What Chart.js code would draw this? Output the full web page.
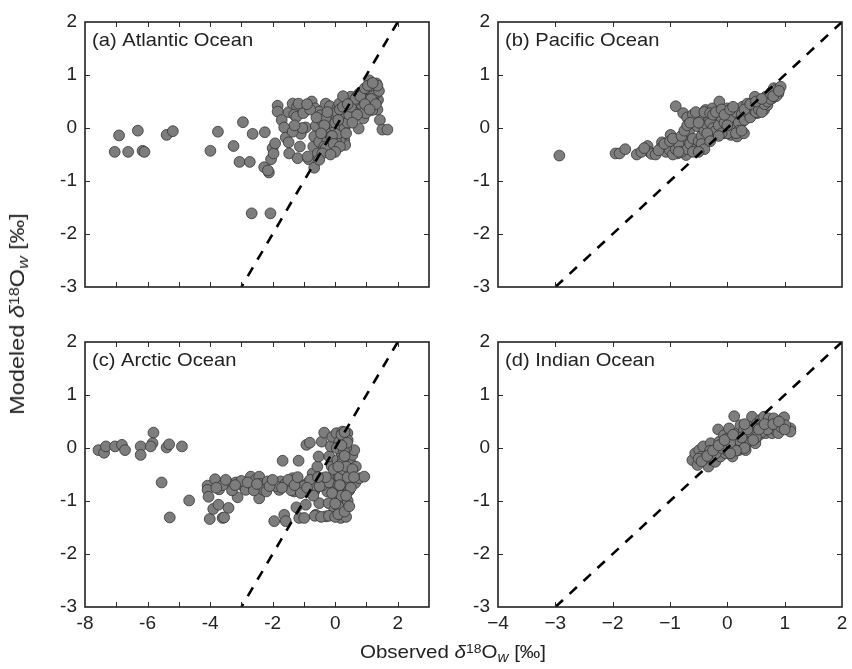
<!DOCTYPE html>
<html>
<head>
<meta charset="utf-8">
<script src="https://cdn.jsdelivr.net/npm/chart.js@4.4.1/dist/chart.umd.min.js"></script>
<style>
  html, body { margin: 0; padding: 0; background: #fff; }
  #wrap { position: relative; width: 852px; height: 669px; overflow: hidden; }
  canvas { position: absolute; left: 0; top: 0; }
  .axt { position: absolute; font-family: "Liberation Sans", Arial, sans-serif; color: #222; white-space: nowrap; line-height: 22px; }
  .axt sup { font-size: 0.68em; vertical-align: 0; position: relative; top: -0.38em; }
  .axt sub { font-size: 0.74em; vertical-align: 0; position: relative; top: 0.28em; }
  #xlab { font-size: 19px; left: 453px; top: 641px; transform: translateX(-50%) scaleX(1.08); }
  #ylab { font-size: 21px; left: 18px; top: 314px; transform: translate(-50%, -50%) rotate(-90deg) scaleX(1.12); }
</style>
</head>
<body>
<div id="wrap">
  <canvas id="ca" width="852" height="669"></canvas>
  <canvas id="cb" width="852" height="669"></canvas>
  <canvas id="cc" width="852" height="669"></canvas>
  <canvas id="cd" width="852" height="669"></canvas>
  <div class="axt" id="ylab">Modeled <i>δ</i><sup>18</sup>O<sub><i>w</i></sub> [‰]</div>
  <div class="axt" id="xlab">Observed <i>δ</i><sup>18</sup>O<sub><i>w</i></sub> [‰]</div>
</div>
<script>
// ---------------- DATA (observed, modeled) pairs ----------------
const panelLabels = ['(a) Atlantic Ocean', '(b) Pacific Ocean', '(c) Arctic Ocean', '(d) Indian Ocean'];
const yTicksRange = [-3, 2];
const leftXRange = [-8, 3];
const rightXRange = [-4, 2];
const oneToOne = [2, -3];

const atlantic = [
  [-7.05,-0.45],[-6.91,-0.14],[-6.62,-0.45],[-6.31,-0.05],[-6.16,-0.43],[-6.10,-0.45],
  [-5.39,-0.13],[-5.19,-0.06],[-3.99,-0.43],[-3.75,-0.07],[-3.25,-0.34],[-2.95,0.11],
  [-3.06,-0.64],[-2.73,-0.64],[-2.64,-0.11],[-2.25,-0.08],[-2.27,-0.74],[-2.12,-0.84],
  [-2.15,-0.80],[-2.67,-1.61],[-2.07,-1.61],[-1.84,0.42],[-1.84,0.31],[-2.00,-0.38],
  [-2.05,-0.59],[-1.97,-0.48],[-1.92,-0.29],[-1.71,0.15],[-1.63,0.01],[-1.58,-0.18],
  [-1.49,0.30],[-1.49,-0.27],[-1.47,-0.48],[-1.36,0.46],[-1.22,0.40],[-1.17,0.46],
  [-1.31,0.25],[-1.24,0.21],[-1.10,-0.11],[-1.13,-0.35],[-1.20,-0.57],[-1.02,0.28],
  [-0.94,0.01],[-0.85,-0.59],[-0.75,0.50],[-0.70,-0.35],[-0.64,0.37],[-0.62,0.04],
  [-0.67,-0.16],[-0.67,-0.75],[-0.51,0.31],[-0.46,0.24],[-0.41,0.12],[-0.51,-0.26],
  [-0.30,0.46],[-0.17,0.41],[-0.25,-0.23],[-0.43,-0.45],[-0.56,-0.48],[-0.35,-0.35],
  [-0.19,-0.07],[-0.14,-0.16],[-0.11,0.15],[-0.03,0.03],[0.02,0.24],[0.07,0.37],
  [0.13,0.46],[0.21,0.24],[0.23,-0.07],[0.29,-0.23],[0.32,-0.32],[0.36,0.15],
  [0.43,0.34],[0.45,0.53],[0.50,0.59],[0.55,0.46],[0.66,0.40],[0.75,-0.01],
  [0.77,0.65],[0.82,0.53],[0.90,0.18],[0.93,0.72],[0.98,0.62],[1.03,0.53],
  [1.09,0.90],[1.14,0.81],[1.19,0.72],[1.25,0.62],[1.28,0.78],[1.32,0.84],
  [1.35,0.68],[1.37,0.53],[1.35,0.35],[1.43,0.15],[1.51,-0.03],[1.67,-0.03],
  [1.19,0.34],[0.98,0.28],[0.77,0.46],[0.55,0.34],[0.34,0.28],[0.15,-0.23],
  [0.02,-0.23],[-0.09,-0.29],[-0.19,-0.35],[-0.30,-0.38],[-0.41,-0.48],[-0.51,-0.60],
  [-0.20,0.10],[0.00,0.10],[0.10,-0.10],[-0.10,-0.15],[0.20,0.05],[0.05,0.30],
  [-0.30,0.20],[0.30,0.00],[-0.05,-0.30],[0.15,0.35],[0.40,0.10],[0.60,0.50],
  [0.70,0.60],[0.85,0.65],[1.00,0.70],[1.10,0.60],[1.20,0.50],[1.30,0.65],
  [0.90,0.55],[1.05,0.45],[0.60,0.30],[0.45,0.25],[1.15,0.70],[1.25,0.75],
  [1.20,0.60],[-1.36,-0.07],[-0.88,-0.54],
  [-0.35,0.05],[-0.25,0.30],[0.10,0.15],[0.25,0.40],[0.35,-0.10],[0.50,0.40],
  [0.65,0.55],[0.80,0.60],[0.95,0.75],[1.05,0.80],[1.15,0.55],[1.30,0.45],
  [1.40,0.70],[1.35,0.80],[1.20,0.85],[0.95,0.45],[0.70,0.25],[0.55,0.10],
  [0.15,-0.35],[-0.45,-0.10],[-0.60,0.20],[-0.80,0.35],[-0.90,0.45],[-1.05,0.00],
  [-1.30,0.05],[0.00,-0.45],[-0.15,-0.50],[0.25,0.60],[0.40,0.45],[1.10,0.35]
];

const pacific = [
  [-2.93,-0.52],[-1.95,-0.48],[-1.88,-0.48],[-1.78,-0.40],[-1.58,-0.50],[-1.39,-0.34],
  [-1.36,-0.45],[-1.32,-0.49],[-1.14,-0.27],[-1.16,-0.38],[-1.07,-0.45],[-0.99,-0.13],
  [-0.96,-0.35],[-0.90,0.41],[-0.87,-0.48],[-0.81,-0.35],[-0.77,0.28],[-0.75,-0.19],
  [-0.72,-0.51],[-0.67,-0.07],[-0.61,-0.41],[-0.58,0.18],[-0.55,-0.26],[-0.52,0.03],
  [-0.49,-0.35],[-0.46,0.24],[-0.43,-0.13],[-0.38,0.34],[-0.35,-0.23],[-0.32,0.15],
  [-0.29,-0.01],[-0.26,0.37],[-0.23,-0.10],[-0.20,0.09],[-0.17,0.21],[-0.14,0.50],
  [-0.13,-0.01],[-0.09,0.28],[-0.06,-0.10],[-0.03,0.15],[0.00,0.37],[0.03,0.03],
  [0.06,-0.13],[0.09,0.28],[0.12,-0.07],[0.14,0.15],[0.17,-0.16],[0.20,0.34],
  [0.23,0.21],[0.26,0.40],[0.29,-0.10],[0.32,0.28],[0.35,0.46],[0.38,0.34],
  [0.43,0.40],[0.48,0.59],[0.52,0.28],[0.55,0.46],[0.60,0.40],[0.64,0.34],
  [0.67,0.59],[0.72,0.53],[0.77,0.68],[0.81,0.75],[0.86,0.72],[0.89,0.65],
  [0.93,0.78],[0.78,0.56],[0.70,0.43],[0.45,0.28],[0.26,0.12],[0.14,-0.01],
  [0.09,0.03],[-1.25,-0.50],[-1.20,-0.42],[-1.00,-0.42],[-0.95,-0.50],[-0.90,-0.40],
  [-0.85,-0.30],[-0.80,-0.45],[-0.70,-0.40],[-0.65,-0.30],[-0.60,-0.20],[-0.55,-0.40],
  [-0.50,-0.25],[-0.45,-0.15],[-0.40,-0.05],[-0.35,0.05],[-0.30,0.10],[-0.25,0.00],
  [-0.20,-0.05],[-0.15,0.05],[-0.10,0.20],[-0.05,0.10],[0.05,0.20],[0.10,0.00],
  [0.15,0.30],[0.20,0.10],[0.25,0.25],[0.30,0.15],[0.35,0.30],[0.40,0.20],
  [0.45,0.35],[0.50,0.30],[0.55,0.35],[0.60,0.30],[0.65,0.45],[0.70,0.50],
  [0.75,0.55],[0.85,0.60],[-0.70,0.20],[-0.60,0.25],[-0.55,0.30],[-0.40,0.30],
  [-0.30,0.28],[0.00,-0.10],[-0.10,-0.10],[0.20,-0.05],
  [-1.50,-0.45],[-1.45,-0.38],[-1.10,-0.30],[-1.00,-0.25],[-0.95,-0.20],[-0.80,-0.15],
  [-0.75,-0.05],[-0.70,0.05],[-0.65,0.10],[-0.50,0.10],[-0.45,-0.30],[-0.40,-0.40],
  [-0.35,-0.10],[-0.30,-0.25],[-0.25,0.25],[-0.20,0.30],[-0.15,-0.15],[-0.10,0.35],
  [-0.05,0.25],[0.00,0.05],[0.05,0.35],[0.10,0.40],[0.15,-0.10],[0.25,-0.05],
  [0.30,0.35],[0.40,0.45],[0.50,0.50],[0.60,0.55],[0.75,0.65],[0.80,0.60],
  [0.90,0.70],[-0.85,-0.45],[-0.60,-0.45],[-0.50,-0.45]
];

const arctic = [
  [-7.57,-0.04],[-7.39,-0.09],[-7.33,0.03],[-7.04,0.03],[-6.82,0.06],[-6.72,-0.04],
  [-6.22,0.03],[-6.22,-0.13],[-5.81,0.29],[-5.84,0.09],[-5.90,0.03],[-5.39,0.01],
  [-5.31,0.07],[-4.90,0.03],[-5.55,-0.65],[-5.29,-1.31],[-4.67,-0.99],[-4.08,-0.71],
  [-4.08,-0.79],[-4.05,-0.92],[-4.01,-1.34],[-3.84,-0.59],[-3.90,-1.15],[-3.73,-1.07],
  [-3.71,-0.78],[-3.60,-1.32],[-3.55,-1.31],[-3.41,-1.13],[-3.44,-0.65],[-3.18,-0.65],
  [-3.12,-0.93],[-2.96,-0.71],[-2.86,-0.79],[-2.70,-0.54],[-2.64,-0.70],[-2.54,-0.60],
  [-2.43,-0.54],[-2.38,-0.68],[-2.43,-0.95],[-2.30,-0.79],[-2.16,-0.63],[-2.00,-0.70],
  [-1.95,-1.38],[-1.79,-0.79],[-1.74,-0.63],[-1.68,-0.24],[-1.63,-1.26],[-1.58,-1.38],
  [-1.47,-0.71],[-1.36,-0.57],[-1.31,-0.82],[-1.24,-1.12],[-1.17,-0.24],[-1.15,-1.32],
  [-1.07,-0.79],[-0.99,-1.32],[-0.94,-1.07],[-0.92,0.06],[-0.81,0.10],[-0.88,-0.66],
  [-0.72,-0.48],[-0.67,-0.82],[-0.62,-1.26],[-0.57,-0.35],[-0.53,-0.16],[-0.51,-1.04],
  [-0.43,0.12],[-0.41,-0.57],[-0.35,0.29],[-0.30,-1.29],[-0.25,-0.82],[-0.21,-1.04],
  [-0.19,-0.16],[-0.17,-0.60],[-0.14,0.03],[-0.11,-0.35],[-0.09,0.21],[-0.03,-1.17],
  [0.00,-0.79],[0.02,-1.29],[0.04,0.28],[0.07,-0.23],[0.11,-0.54],[0.13,0.12],
  [0.15,-0.92],[0.18,-1.32],[0.21,-0.10],[0.23,0.31],[0.26,-0.35],[0.29,-0.66],
  [0.29,-1.07],[0.32,0.09],[0.34,-0.23],[0.36,-0.79],[0.39,0.28],[0.43,-0.04],
  [0.45,-0.48],[0.50,-0.29],[0.55,-0.13],[0.61,-0.04],[0.64,-0.66],[0.66,-0.35],
  [0.77,-0.57],[0.93,-0.54],
  [-1.90,-0.72],[-1.60,-0.68],[-1.40,-0.80],[-1.20,-0.65],[-1.00,-0.72],[-0.80,-0.60],
  [-0.60,-0.75],[-0.40,-0.70],[-0.20,-0.65],[0.10,-0.70],[0.20,-0.75],[-2.20,-0.82],
  [-2.60,-0.80],[-3.00,-0.62],[-3.30,-0.80],[-3.60,-0.70],[-3.80,-0.75],[-2.80,-0.65],
  [-1.50,-0.60],[-1.10,-0.85],[-0.70,-0.90],
  [0.25,-1.20],[0.30,-1.00],[0.35,-0.70],[0.30,-0.50],[0.25,-0.20],[0.35,0.00],
  [0.30,0.20],[0.40,-0.40],[0.20,-0.90],[0.10,-1.10],[0.35,-1.30],[0.05,0.00],
  [-0.05,-0.40],[0.15,-0.55],[0.45,-0.80],[0.40,0.15],[0.28,-0.05],
  [-0.65,-1.28],[-0.45,-1.30],[-0.20,-1.28],[0.00,-1.30],[0.10,-1.25],
  [0.20,0.25],[0.30,0.30],[0.38,0.10],[0.25,-0.40],[0.45,-0.60],[0.40,-1.00],
  [0.30,-1.20],[0.20,-0.30],[0.15,-0.70],[0.40,-0.55],[0.50,-0.75],[0.35,-0.35],
  [0.20,0.05],[0.10,-0.35],[0.45,-1.10],[0.35,-0.90],[0.00,-1.05],[-0.10,-0.85],
  [-0.30,-0.55],[-0.50,-0.72],[-0.90,-0.75],[-1.30,-0.70],[-1.70,-0.75],[-2.10,-0.72],
  [-2.50,-0.68],[-3.20,-0.70],[-3.50,-0.60],[-2.00,-0.60],[-1.20,-0.55],[0.55,-0.40],
  [0.60,-0.55],[0.30,-0.15],[-0.55,-0.55]
];

const indian = [
  [-0.61,-0.23],[-0.56,-0.10],[-0.52,-0.32],[-0.49,-0.04],[-0.45,-0.16],[-0.42,0.03],
  [-0.38,-0.26],[-0.33,-0.35],[-0.32,-0.10],[-0.29,0.09],[-0.26,-0.19],[-0.21,-0.26],
  [-0.19,-0.04],[-0.16,0.35],[-0.14,0.12],[-0.12,-0.16],[-0.09,0.03],[-0.06,0.24],
  [-0.03,-0.10],[0.00,0.18],[0.03,0.37],[0.06,0.03],[0.09,-0.16],[0.12,0.60],
  [0.14,0.12],[0.17,0.28],[0.20,-0.04],[0.23,0.43],[0.26,0.12],[0.29,0.34],
  [0.32,-0.04],[0.35,0.21],[0.38,0.43],[0.41,0.12],[0.43,0.59],[0.46,0.34],
  [0.49,0.09],[0.52,0.46],[0.55,0.24],[0.58,0.53],[0.61,0.40],[0.64,0.59],
  [0.67,0.28],[0.70,0.43],[0.72,0.56],[0.75,0.40],[0.78,0.28],[0.81,0.56],
  [0.84,0.34],[0.89,0.28],[0.93,0.40],[0.99,0.58],[1.10,0.37],[1.10,0.31],
  [1.01,0.43],[-0.40,-0.20],[-0.20,-0.10],[0.00,-0.05],[0.10,0.05],[0.20,0.15],
  [-0.30,-0.05],[0.40,0.30],[0.60,0.30],[0.70,0.35],[0.50,0.20],[-0.10,0.00],
  [0.30,0.00],[0.15,-0.05],[-0.50,-0.20],[0.05,-0.10],
  [-0.45,-0.25],[-0.35,-0.15],[-0.25,-0.05],[-0.15,0.05],[0.05,0.10],[0.25,0.20],
  [0.45,0.15],[0.55,0.35],[0.65,0.45],[0.80,0.45],[0.90,0.50],[1.00,0.35],
  [0.35,0.35],[-0.05,0.15],[0.10,0.25],[0.30,0.45]
];

// ---------------- STYLE ----------------
const FONT = '"Liberation Sans", Arial, sans-serif';
const TEXT = '#222';
const POINT_FILL = 'rgb(125,125,125)';
const POINT_EDGE = '#333';

const framePlugin = {
  id: 'frameTicks',
  afterDraw(chart, args, opts) {
    const { ctx, chartArea: a } = chart;
    const xs = chart.scales.x, ys = chart.scales.y;
    ctx.save();
    ctx.strokeStyle = '#2a2a2a';
    ctx.lineWidth = 1;
    const tl = 5;
    ctx.beginPath();
    xs.ticks.forEach(t => {
      const px = Math.round(xs.getPixelForValue(t.value)) + 0.5;
      if (px <= a.left + 2 || px >= a.right - 2) return;
      ctx.moveTo(px, a.bottom); ctx.lineTo(px, a.bottom - tl);
      ctx.moveTo(px, a.top); ctx.lineTo(px, a.top + tl);
    });
    ys.ticks.forEach(t => {
      const py = Math.round(ys.getPixelForValue(t.value)) + 0.5;
      if (py <= a.top + 2 || py >= a.bottom - 2) return;
      ctx.moveTo(a.left, py); ctx.lineTo(a.left + tl, py);
      ctx.moveTo(a.right, py); ctx.lineTo(a.right - tl, py);
    });
    ctx.stroke();
    ctx.lineWidth = 1.6;
    ctx.strokeStyle = '#222';
    ctx.strokeRect(a.left, a.top, a.right - a.left, a.bottom - a.top);
    // panel label (slightly widened like the reference typeface)
    ctx.font = '19px ' + FONT;
    ctx.fillStyle = TEXT;
    ctx.textBaseline = 'alphabetic';
    ctx.textAlign = 'left';
    ctx.translate(a.left + 7, a.top + 24);
    ctx.scale(1.06, 1);
    ctx.fillText(opts.label, 0, 0);
    ctx.restore();
  }
};

const Y_W = 45, X_H = 35;

function makePanel(id, pts, label, box, xr, showX, xFmt) {
  const [L, T, R, B] = box;
  return new Chart(document.getElementById(id), {
    type: 'scatter',
    data: {
      datasets: [
        {
          type: 'line',
          data: oneToOne.map(v => ({ x: v, y: v })),
          borderColor: '#000',
          borderWidth: 2.6,
          borderDash: [10, 9],
          pointRadius: 0,
          fill: false,
          order: 0
        },
        {
          data: pts.map(p => ({ x: p[0], y: p[1] })),
          backgroundColor: POINT_FILL,
          borderColor: POINT_EDGE,
          borderWidth: 0.8,
          pointRadius: 5.4,
          order: 1
        }
      ]
    },
    options: {
      responsive: false,
      animation: false,
      events: [],
      layout: { padding: { left: L - Y_W, top: T, right: 852 - R, bottom: 669 - B - X_H } },
      plugins: { legend: { display: false }, tooltip: { enabled: false }, frameTicks: { label } },
      scales: {
        x: {
          type: 'linear', min: xr[0], max: xr[1],
          grid: { display: true, drawOnChartArea: false, drawTicks: false },
          border: { display: false },
          ticks: {
            display: showX, stepSize: 1, autoSkip: false, maxRotation: 0, padding: 5,
            color: TEXT, font: { family: FONT, size: 19 },
            callback: xFmt
          },
          afterFit(s) { s.height = X_H; s.paddingLeft = 0; s.paddingRight = 0; }
        },
        y: {
          type: 'linear', min: yTicksRange[0], max: yTicksRange[1],
          grid: { display: true, drawOnChartArea: false, drawTicks: false },
          border: { display: false },
          ticks: {
            stepSize: 1, padding: 8, color: TEXT, font: { family: FONT, size: 19 },
            callback: v => (v < 0 ? '-' + Math.abs(v) : String(v))
          },
          afterFit(s) { s.width = Y_W; s.paddingTop = 0; s.paddingBottom = 0; }
        }
      }
    },
    plugins: [framePlugin]
  });
}

const leftFmt = v => (Math.round(v) % 2 === 0 ? (v < 0 ? '-' + Math.abs(v) : String(v)) : '');
const rightFmt = v => (v < 0 ? '\u2212' + Math.abs(v) : String(v));

makePanel('ca', atlantic, panelLabels[0], [85, 22, 429, 287], leftXRange, false, leftFmt);
makePanel('cb', pacific, panelLabels[1], [498, 22, 842, 287], rightXRange, false, rightFmt);
makePanel('cc', arctic, panelLabels[2], [85, 342, 429, 607], leftXRange, true, leftFmt);
makePanel('cd', indian, panelLabels[3], [498, 342, 842, 607], rightXRange, true, rightFmt);
</script>
</body>
</html>
